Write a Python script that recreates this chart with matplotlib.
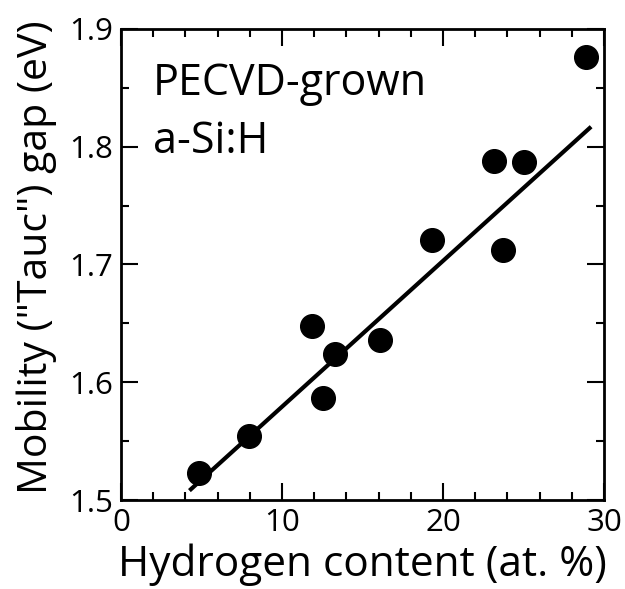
import numpy as np
import matplotlib.pyplot as plt
from matplotlib.ticker import MultipleLocator

# Dados
h_content = [4.85, 7.95, 11.85, 12.55, 13.3, 16.1, 19.3, 23.15, 23.7, 25.05, 28.9]
tauc_gap = [1.523, 1.554, 1.648, 1.587, 1.624, 1.636, 1.721, 1.788, 1.712, 1.787, 1.876]

# Reta de ajuste (extremos)
fit_x = [4.25, 29.2]
fit_y = [1.508, 1.817]

plt.rcParams['font.family'] = ['Open Sans', 'DejaVu Sans']

fig = plt.figure(figsize=(6.25, 5.89), dpi=100)
ax = fig.add_axes([0.1936, 0.1511, 0.7728, 0.7997])

ax.plot(fit_x, fit_y, color='black', lw=3, solid_capstyle='butt', zorder=2)
ax.scatter(h_content, tauc_gap, s=290, color='black', zorder=3)

ax.set_xlim(0, 30)
ax.set_ylim(1.5, 1.9)
ax.xaxis.set_major_locator(MultipleLocator(10))
ax.xaxis.set_minor_locator(MultipleLocator(2))
ax.yaxis.set_major_locator(MultipleLocator(0.1))
ax.yaxis.set_minor_locator(MultipleLocator(0.05))
ax.set_yticks([1.5, 1.6, 1.7, 1.8, 1.9])
ax.set_yticklabels(['1.5', '1.6', '1.7', '1.8', '1.9'])

ax.tick_params(which='both', direction='in', top=True, right=True, width=1.5, labelsize=22.5)
ax.tick_params(which='major', length=12, pad=6)
ax.tick_params(which='minor', length=6)
for s in ax.spines.values():
    s.set_linewidth(2)

ax.set_xlabel('Hydrogen content (at. %)', fontsize=30.5, labelpad=4)
ax.set_ylabel('Mobility ("Tauc") gap (eV)', fontsize=29.5)
ax.yaxis.set_label_coords(-0.132, 0.515)

# Anotação
ax.text(0.066, 0.860, 'PECVD-grown', transform=ax.transAxes, fontsize=31,
        va='baseline', ha='left')
ax.text(0.066, 0.737, 'a-Si:H', transform=ax.transAxes, fontsize=31,
        va='baseline', ha='left')

plt.savefig('out.png', dpi=100)
